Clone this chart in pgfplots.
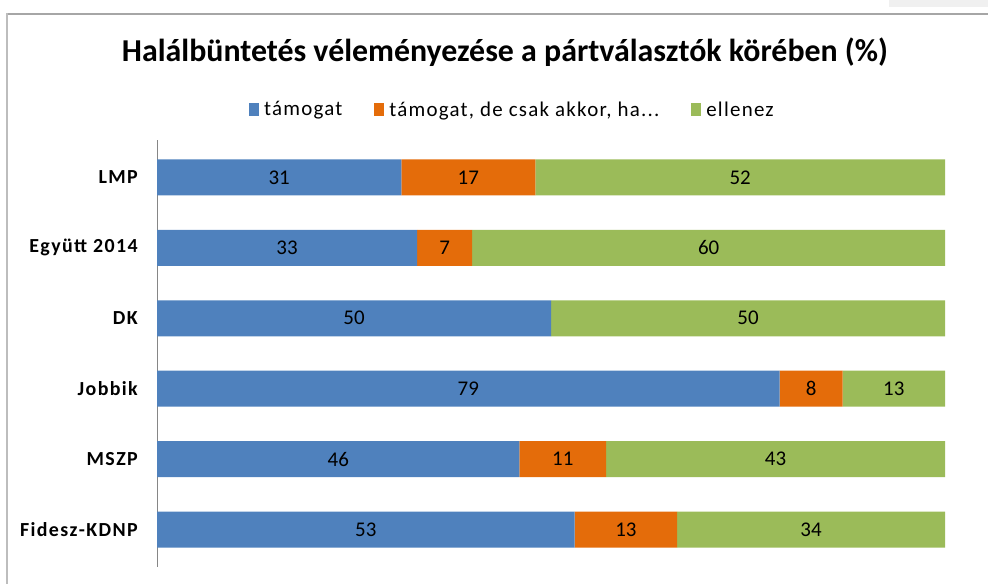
\documentclass[border=0pt]{standalone}
\usepackage{pgfplots}
\pgfplotsset{compat=1.18}
\usepackage{pgfplotstable}
\usepackage{fontspec}
\setmainfont{Carlito}
\newfontfamily\legfont[LetterSpace=6]{Carlito}
\newfontfamily\catfont[LetterSpace=7]{Carlito}
\definecolor{cblue}{HTML}{4F81BD}
\definecolor{corange}{HTML}{E46C0A}
\definecolor{cgreen}{HTML}{9BBB59}
\definecolor{frametop}{HTML}{A6A6A6}
\definecolor{frameleft}{HTML}{BDBDBD}
\definecolor{axisgray}{HTML}{868686}
\pgfplotstableread{
idx a b c
0 53 13 34
1 46 11 43
2 79 8 13
3 50 0 50
4 33 7 60
5 31 17 52
}\data
\begin{document}
\begin{tikzpicture}[x=1bp,y=1bp]
\useasboundingbox (0,0) rectangle (988,584);
\fill[black!6] (889,584) rectangle (988,577);
\draw[line width=2bp, frametop] (6,569.7) -- (988,569.7);
\draw[line width=2bp, frameleft] (7,570.7) -- (7,0);
\node[font=\fontsize{32}{36}\selectfont\bfseries] at (505,532) {Halálbüntetés véleményezése a pártválasztók körében (\%)};
\begin{axis}[
  at={(157bp,17bp)}, anchor=south west, scale only axis,
  width=788bp, height=427bp,
  xbar stacked, bar width=36bp,
  xmin=0, xmax=100, ymin=-0.53, ymax=5.53,
  axis x line=none, axis y line*=left,
  y axis line style={axisgray, line width=1bp},
  xtick=\empty,
  ytick={0,1,2,3,4,5},
  yticklabels={Fidesz-KDNP, MSZP, Jobbik, DK, Együtt 2014, LMP},
  major tick length=0pt,
  yticklabel style={font=\catfont\fontsize{20}{24}\selectfont\bfseries, inner sep=0pt, xshift=-19bp},
  legend style={at={(0.451,1.0714)}, anchor=center, draw=none, legend columns=3,
    font=\legfont\fontsize{21}{24}\selectfont, inner sep=0pt,
    /tikz/every even column/.append style={column sep=30bp}},
  legend image code/.code={\fill[#1] (0bp,-6.5bp) rectangle (10bp,6.5bp); \path (13bp,0bp);},
]
\addplot[fill=cblue, draw=none] table[x=a, y=idx] {\data};
\addlegendentry{támogat}
\addplot[fill=corange, draw=none] table[x=b, y=idx] {\data};
\addlegendentry{támogat, de csak akkor, ha...}
\addplot[fill=cgreen, draw=none] table[x=c, y=idx] {\data};
\addlegendentry{ellenez}
\end{axis}
\begin{axis}[
  at={(157bp,17bp)}, anchor=south west, scale only axis,
  width=788bp, height=427bp,
  xmin=0, xmax=100, ymin=-0.53, ymax=5.53,
  hide axis,
  point meta=explicit,
  /pgf/number format/assume math mode=true,
  nodes near coords={\pgfmathfloatifflags{\pgfplotspointmeta}{0}{}{\pgfmathprintnumber{\pgfplotspointmeta}}},
  every node near coord/.append style={anchor=center, font=\fontsize{21}{24}\selectfont, text=black},
]
\addplot[draw=none, mark=none] table[x expr=\thisrow{a}/2, y=idx, meta=a] {\data};
\addplot[draw=none, mark=none] table[x expr=\thisrow{a}+\thisrow{b}/2, y=idx, meta=b] {\data};
\addplot[draw=none, mark=none] table[x expr=\thisrow{a}+\thisrow{b}+\thisrow{c}/2, y=idx, meta=c] {\data};
\end{axis}
\end{tikzpicture}
\end{document}
